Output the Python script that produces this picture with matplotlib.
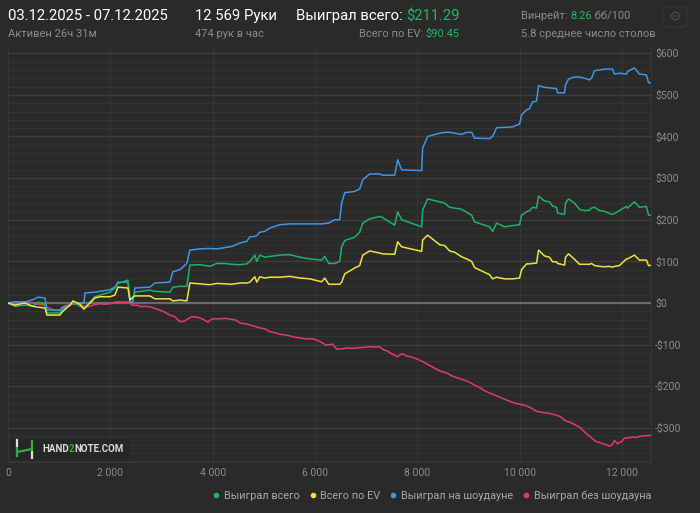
import matplotlib
matplotlib.use('Agg')
import matplotlib.pyplot as plt
from matplotlib.ticker import FuncFormatter, MultipleLocator
from matplotlib.lines import Line2D
from matplotlib.patches import FancyBboxPatch

plt.rcParams['font.family'] = ['Roboto', 'DejaVu Sans']

# hands played (sample grid) and cumulative winnings, $
hands = [0, 137, 332, 488, 586, 723, 762, 1016, 1055, 1211, 1269, 1406, 1484, 1504,
         1699, 1797, 1992, 2090, 2148, 2344, 2383, 2441, 2480, 2773, 2871, 3164,
         3223, 3359, 3496, 3555, 3750, 3945, 4082, 4238, 4375, 4531, 4668, 4727,
         4824, 4863, 4922, 5019, 5117, 5313, 5507, 5703, 5898, 6132, 6191, 6270,
         6387, 6484, 6523, 6582, 6777, 6875, 6934, 7070, 7266, 7324, 7559, 7617,
         7695, 8086, 8105, 8203, 8438, 8535, 8633, 8730, 8867, 8964, 9063, 9121,
         9414, 9473, 9551, 9707, 9863, 10000, 10039, 10137, 10195, 10254, 10332,
         10371, 10488, 10586, 10645, 10723, 10742, 10879, 10898, 10957, 11074,
         11172, 11270, 11367, 11406, 11465, 11563, 11660, 11758, 11816, 11855,
         11953, 12090, 12109, 12246, 12344, 12480, 12520, 12569]

won_total = [0, -8, -5, -8, 2, -3, -24, -24, -17, -5, 2, -8, -12, -10,
             15, 19, 26, 36, 47, 55, 14, 7, 26, 31, 28, 26,
             38, 40, 40, 91, 92, 88, 95, 95, 93, 92, 94, 100,
             115, 100, 115, 110, 112, 115, 116, 110, 106, 103, 112, 95,
             95, 100, 135, 150, 158, 170, 192, 202, 208, 205, 187, 219,
             200, 183, 223, 250, 243, 240, 230, 228, 225, 218, 211, 195,
             183, 172, 192, 183, 186, 188, 211, 219, 222, 230, 228,
             257, 245, 243, 233, 230, 216, 213, 240, 250, 240,
             225, 222, 223, 228, 230, 222, 220, 215, 213, 215,
             222, 232, 228, 243, 230, 232, 211, 211.29]

won_ev = [0, -5, 0, -8, -10, -12, -29, -29, -22, -5, 5, -3, -15, -12,
          12, 15, 15, 19, 38, 36, 7, 14, 17, 17, 10, 10,
          5, 7, 5, 48, 46, 44, 47, 46, 45, 48, 48, 50,
          63, 50, 63, 60, 62, 62, 64, 60, 58, 51, 60, 45,
          45, 45, 50, 70, 84, 90, 115, 125, 120, 118, 117, 147,
          135, 124, 151, 163, 140, 138, 125, 122, 111, 106, 100, 85,
          68, 58, 62, 58, 58, 60, 80, 94, 94, 95, 96,
          127, 113, 110, 99, 99, 95, 91, 110, 118, 105,
          93, 93, 93, 95, 90, 88, 87, 88, 86, 88,
          90, 106, 106, 115, 103, 103, 90, 90.45]

won_sd = [0, 3, 2, 8, 14, 12, -17, -17, -12, -5, 0, 0, 0, 24,
          26, 28, 32, 38, 50, 50, 2, 2, 36, 38, 48, 50,
          75, 80, 95, 127, 130, 131, 130, 133, 136, 144, 148, 159,
          160, 162, 170, 172, 180, 188, 190, 190, 190, 190, 191, 192,
          200, 200, 240, 265, 268, 274, 296, 310, 310, 307, 307, 344,
          320, 318, 372, 400, 408, 410, 410, 408, 405, 410, 410, 396,
          395, 400, 421, 422, 423, 430, 452, 464, 467, 483, 485,
          522, 518, 517, 516, 515, 505, 505, 524, 538, 543,
          543, 540, 536, 540, 558, 560, 562, 562, 562, 550,
          552, 550, 556, 565, 550, 548, 529, 529]

nsd_hands = [0, 78, 137, 234, 332, 430, 488, 586, 723, 762, 859, 937, 1016, 1055,
             1133, 1211, 1269, 1406, 1484, 1543, 1621, 1699, 1797, 1894, 1992, 2090,
             2148, 2265, 2344, 2383, 2441, 2519, 2597, 2676, 2773, 2871, 2969, 3066,
             3164, 3262, 3359, 3437, 3515, 3594, 3691, 3750, 3828, 3906, 3965, 4023,
             4140, 4258, 4355, 4453, 4531, 4648, 4726, 4824, 4922, 5019, 5117, 5215,
             5312, 5429, 5507, 5605, 5703, 5820, 5957, 6054, 6132, 6211, 6289, 6347,
             6425, 6543, 6640, 6738, 6816, 6933, 7070, 7187, 7265, 7324, 7421, 7500,
             7617, 7695, 7792, 7890, 8007, 8124, 8242, 8359, 8476, 8574, 8671, 8789,
             8886, 8984, 9101, 9218, 9335, 9452, 9570, 9687, 9804, 9921, 10038, 10136,
             10234, 10331, 10449, 10566, 10683, 10800, 10898, 10995, 11093, 11191,
             11288, 11386, 11484, 11581, 11679, 11757, 11816, 11855, 11914, 11992,
             12050, 12128, 12206, 12285, 12363, 12441, 12569]

won_nsd = [0, -3, -5, 2, 3, 0, 0, -3, -5, -10, -15, -18, -18, -10,
           -6, -5, -3, -3, -8, -10, -7, -4, -2, -3, -2, 2,
           3, 2, 3, 0, -6, -5, -9, -8, -9, -13, -17, -22,
           -29, -33, -45, -44, -38, -33, -34, -36, -40, -46, -40, -38,
           -38, -37, -39, -41, -48, -50, -53, -56, -60, -62, -69, -71,
           -75, -77, -79, -82, -84, -86, -86, -90, -95, -101, -100, -99,
           -111, -110, -108, -109, -108, -107, -105, -106, -105, -111, -116, -122,
           -129, -122, -127, -130, -135, -142, -150, -158, -165, -168, -175, -180,
           -184, -188, -196, -203, -212, -218, -224, -230, -236, -241, -244, -247,
           -253, -260, -263, -265, -268, -273, -283, -287, -293, -300,
           -312, -322, -332, -336, -340, -344, -340, -330, -338, -333,
           -325, -324, -322, -323, -320, -319, -318]

series_names = ['Выиграл всего', 'Всего по EV', 'Выиграл на шоудауне', 'Выиграл без шоудауна']
series_colors = ['#1fb26b', '#f0e23a', '#3d97e6', '#e4386d']

bg = '#2a2a2a'
grey = '#8c8c8c'
green_txt = '#22b66f'

fig = plt.figure(figsize=(7, 5.13), dpi=100, facecolor=bg)
ax = fig.add_axes([8 / 700, 1 - 462 / 513, 643 / 700, 415 / 513])
ax.set_facecolor(bg)

ax.plot(nsd_hands, won_nsd, color=series_colors[3], lw=1.1, zorder=3)
ax.plot(hands, won_sd, color=series_colors[2], lw=1.1, zorder=3)
ax.plot(hands, won_total, color=series_colors[0], lw=1.1, zorder=4)
ax.plot(hands, won_ev, color=series_colors[1], lw=1.1, zorder=5)

ax.set_xlim(0, 12569)
ax.set_ylim(-382, 615)

ax.yaxis.set_major_locator(MultipleLocator(100))
ax.yaxis.set_minor_locator(MultipleLocator(20))
ax.xaxis.set_major_locator(MultipleLocator(2000))
ax.grid(which='major', axis='y', color='#3e3e3e', lw=0.9)
ax.grid(which='minor', axis='y', color='#333333', lw=0.8)
ax.grid(which='major', axis='x', color='#363636', lw=0.8)
ax.axhline(0, color='#6b6b6b', lw=1.6, zorder=2)

ax.yaxis.tick_right()
ax.tick_params(axis='both', which='both', length=0, colors=grey, labelsize=7.5)
ax.tick_params(axis='y', pad=3)
ax.tick_params(axis='x', pad=4)
ax.yaxis.set_major_formatter(FuncFormatter(lambda v, p: ('-$%d' % -v) if v < 0 else '$%d' % v))
ax.xaxis.set_major_formatter(FuncFormatter(lambda v, p: '{:,}'.format(int(v)).replace(',', ' ')))
for s in ax.spines.values():
    s.set_color('#363636')
    s.set_linewidth(0.8)
ax.spines['top'].set_visible(False)

renderer = fig.canvas.get_renderer()


def after(t):
    # figure x just right of a text
    return t.get_window_extent(renderer).x1 / fig.bbox.width


def before(t):
    return t.get_window_extent(renderer).x0 / fig.bbox.width


# header
y1, y2 = 1 - 16 / 513, 1 - 34 / 513
fig.text(8 / 700, y1, '03.12.2025 - 07.12.2025', color='white', fontsize=10.7, va='center')
fig.text(8 / 700, y2, 'Активен 26ч 31м', color=grey, fontsize=8, va='center')
fig.text(195 / 700, y1, '12 569 Руки', color='white', fontsize=10.7, va='center')
fig.text(195 / 700, y2, '474 рук в час', color=grey, fontsize=8, va='center')

t = fig.text(460 / 700, y1, '$211.29', color=green_txt, fontsize=10.7, va='center', ha='right')
fig.text(before(t), y1, 'Выиграл всего: ', color='white', fontsize=10.7, va='center', ha='right')
t2 = fig.text(460 / 700, y2, '$90.45', color=green_txt, fontsize=8, va='center', ha='right')
fig.text(before(t2), y2, 'Всего по EV: ', color=grey, fontsize=8, va='center', ha='right')

w1 = fig.text(521 / 700, y1, 'Винрейт: ', color=grey, fontsize=8, va='center')
w2 = fig.text(after(w1), y1, '8.26', color=green_txt, fontsize=8, va='center')
fig.text(after(w2), y1, ' бб/100', color=grey, fontsize=8, va='center')
fig.text(521 / 700, y2, '5.8 среднее число столов', color=grey, fontsize=8, va='center')

# settings button
fig.patches.append(FancyBboxPatch((663 / 700, 1 - 27 / 513), 24 / 700, 20 / 513,
                                  boxstyle='round,pad=0,rounding_size=0.006', transform=fig.transFigure,
                                  facecolor=bg, edgecolor='#383838', lw=0.8))
fig.text(675 / 700, 1 - 17 / 513, '\u2699', family='DejaVu Sans', color='#4c4c4c', fontsize=10,
         ha='center', va='center')

# watermark
fig.patches.append(FancyBboxPatch((11 / 700, 1 - 461 / 513), 119 / 700, 22 / 513, boxstyle='square,pad=0',
                                  transform=fig.transFigure, facecolor='#262626', edgecolor='none', zorder=5))
for (x0, yy0), (x1, yy1), c in [((17, 440), (17, 446), '#e0e0e0'), ((32, 452), (32, 458), '#e0e0e0'),
                                ((17, 448), (17, 456), '#2fae3e'), ((17, 452), (32, 449), '#2fae3e'),
                                ((32, 441), (32, 450), '#2fae3e')]:
    fig.lines.append(Line2D([x0 / 700, x1 / 700], [1 - yy0 / 513, 1 - yy1 / 513], transform=fig.transFigure,
                            color=c, lw=1.6, zorder=6))
yw = 1 - 449 / 513
h1 = fig.text(42 / 700, yw, 'HAND', color='#d8d8d8', fontsize=7, weight='bold', va='center', zorder=7)
h2 = fig.text(after(h1), yw, '2', color='#2fae3e', fontsize=7, weight='bold', va='center', zorder=7)
fig.text(after(h2), yw, 'NOTE.COM', color='#d8d8d8', fontsize=7, weight='bold', va='center', zorder=7)

# legend
handles = [Line2D([], [], ls='none', marker='o', ms=3, color=c) for c in series_colors]
fig.legend(handles, series_names, loc='center right', bbox_to_anchor=(651 / 700, 1 - 496 / 513),
           ncol=4, frameon=False, fontsize=7.8, labelcolor='#a8a8a8', handlelength=0.6,
           handletextpad=0.4, columnspacing=0.9, borderpad=0, borderaxespad=0)

fig.savefig('out.png', dpi=100, facecolor=bg)
